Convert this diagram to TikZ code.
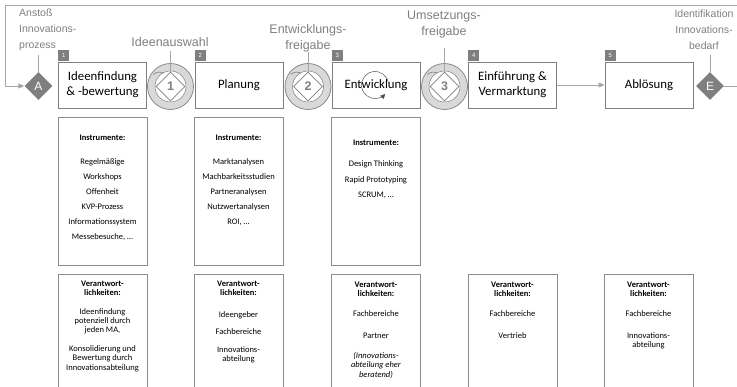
\documentclass[tikz,border=0pt]{standalone}
\usepackage{fontspec}
\setmainfont{Carlito}
\newfontfamily\labelfont{Liberation Sans}
\usetikzlibrary{shapes.geometric,arrows.meta,calc}
\definecolor{lg}{HTML}{D9D9D9}
\definecolor{mg}{HTML}{7F7F7F}
\definecolor{bc}{HTML}{8C8C8C}
\definecolor{fc}{HTML}{A6A6A6}
\begin{document}
\begin{tikzpicture}[x=1pt,y=1pt,
 phase/.style={draw=mg, line width=0.8pt, fill=white, minimum width=88pt, minimum height=46pt, inner sep=0pt, align=center, font=\fontsize{12.8}{15}\selectfont},
 tag/.style={fill=mg, minimum size=11pt, inner sep=0pt, text=white, anchor=south west, font=\labelfont\fontsize{6}{6}\selectfont},
 infobox/.style={draw=bc, line width=0.7pt, minimum width=89pt, inner sep=0pt, anchor=north},
 infotext/.style={anchor=north, align=center, font=\fontsize{8.5}{9.4}\selectfont, inner sep=0pt},
 gate/.style={diamond, fill=mg, minimum size=28pt, inner sep=0pt, text=white, font=\labelfont\fontsize{12}{12}\selectfont},
 ring/.style={circle, fill=lg, draw=mg, line width=0.7pt, minimum size=46pt, inner sep=0pt},
 inring/.style={circle, fill=white, draw=mg, line width=0.5pt, minimum size=31pt, inner sep=0pt},
 gdiam/.style={diamond, fill=white, draw=mg, line width=0.7pt, minimum size=29pt, inner sep=0pt, text=mg, font=\labelfont\bfseries\fontsize{12.5}{12.5}\selectfont},
 lbl/.style={text=mg, font=\labelfont\fontsize{12.5}{16}\selectfont, align=center, inner sep=0pt},
 lbls/.style={text=mg, font=\labelfont\fontsize{10.5}{16}\selectfont, inner sep=0pt},
 conn/.style={draw=fc, line width=0.8pt},
 arr/.style={conn, -{Triangle[length=6pt,width=5pt]}}
]
\useasboundingbox (0,0) rectangle (737,-387);

% frame connectors
\coordinate (tr) at (737,-5);
\coordinate (tl) at (5,-5);
\coordinate (bl) at (5,-86);
\coordinate (er) at (737,-86);

% gates
\node[gate] (A) at (38.5,-86) {A};
\node[gate] (E) at (710,-86) {E};
\draw[arr] (tr) -- (tl) -- (bl) -- (A.west);
\draw[conn] (E.east) -- (er);

% phase boxes
\node[phase] (b1) at (102.5,-85) {Ideenfindung\\\& -bewertung};
\node[phase] (b2) at (239,-85) {Planung};
\node[phase] (b3) at (376,-85) {Entwicklung};
\node[phase] (b4) at (512.5,-85) {Einführung \&\\Vermarktung};
\node[phase] (b5) at (649,-85) {Ablösung};
\node[tag] (t1) at (b1.north west) {1};
\node[tag] (t2) at (b2.north west) {2};
\node[tag] (t3) at (b3.north west) {3};
\node[tag] (t4) at (b4.north west) {4};
\node[tag] (t5) at (b5.north west) {5};
\draw[arr] (b4.east) -- (b5.west);

% circular arrow in Entwicklung
\coordinate (ec) at (375,-85);
\draw[black!70, line width=0.5pt, -{Triangle[length=4.5pt,width=4.5pt]}] (ec) ++(8:13.5) arc (8:318:13.5);

% gates 1-3
\foreach \i/\x in {1/170.5,2/308,3/444.5}{
  \node[ring] (c\i) at (\x,-86.5) {};
  \node[inring] (ci\i) at (\x,-86.5) {};
  \node[gdiam] (d\i) at (\x,-86.5) {\i};
  \draw[mg, line width=0.6pt] ($(c\i)+(145:21)$) to[bend left=35] ($(c\i)+(118:15)$);
}

% labels
\node[lbls, anchor=north west, align=left] (la) at (19,-9) {Anstoß\\Innovations-\\prozess};
\coordinate (lac) at (38.5,-55);
\draw[conn] (lac) -- (A.north);
\node[lbls, align=center, anchor=north] (le) at (704,-10) {Identifikation\\Innovations-\\bedarf};
\coordinate (lec) at (710,-55);
\draw[conn] (lec) -- (E.north);

\node[lbl] (l1) at (170,-42.5) {Ideenauswahl};
\node[lbl, anchor=north] (l2) at (308,-24) {Entwicklungs-\\freigabe};
\node[lbl, anchor=north] (l3) at (444,-11) {Umsetzungs-\\freigabe};
\coordinate (l1c) at (170.5,-51);
\coordinate (l2c) at (308,-52);
\coordinate (l3c) at (444.5,-48);
\draw[conn] (l1c) -- (d1.north);
\draw[conn] (l2c) -- (d2.north);
\draw[conn] (l3c) -- (d3.north);

% info boxes
\foreach \i/\x in {1/102.5,2/238.5,3/376}{
  \node[infobox, minimum height=148pt] (i\i) at (\x,-117) {};
}
\foreach \i/\x in {1/102.5,2/238.5,3/376,4/512.5,5/648.5}{
  \node[infobox, minimum height=130pt] (r\i) at (\x,-274) {};
}

\node[infotext, font=\fontsize{8.5}{15}\selectfont] (ti1) at (102.5,-134.5) {\textbf{Instrumente:}\\[9pt]Regelmäßige\\Workshops\\Offenheit\\KVP-Prozess\\Informationssystem\\Messebesuche, …};
\node[infotext, font=\fontsize{8.5}{15}\selectfont] (ti2) at (238.5,-134.5) {\textbf{Instrumente:}\\[9pt]Marktanalysen\\Machbarkeitsstudien\\Partneranalysen\\Nutzwertanalysen\\ROI, …};
\node[infotext, font=\fontsize{8.5}{15.5}\selectfont] (ti3) at (376,-139.5) {\textbf{Instrumente:}\\[6pt]Design Thinking\\Rapid Prototyping\\SCRUM, …};

\node[infotext] (tr1) at (102.5,-280.5) {\textbf{Verantwort-}\\\textbf{lichkeiten:}\\[9pt]Ideenfindung\\potenziell durch\\jeden MA,\\[9pt]Konsolidierung und\\Bewertung durch\\Innovationsabteilung};
\node[infotext] (tr2) at (238.5,-280.5) {\textbf{Verantwort-}\\\textbf{lichkeiten:}\\[12pt]Ideengeber\\[8.5pt]Fachbereiche\\[8pt]Innovations-\\abteilung};
\node[infotext] (tr3) at (376,-281.5) {\textbf{Verantwort-}\\\textbf{lichkeiten:}\\[10.5pt]Fachbereiche\\[12.5pt]Partner\\[10.5pt]\textit{(Innovations-}\\\textit{abteilung eher}\\\textit{beratend)}};
\node[infotext] (tr4) at (512.5,-281.5) {\textbf{Verantwort-}\\\textbf{lichkeiten:}\\[10.5pt]Fachbereiche\\[12.5pt]Vertrieb};
\node[infotext] (tr5) at (648.5,-281.5) {\textbf{Verantwort-}\\\textbf{lichkeiten:}\\[10.5pt]Fachbereiche\\[12.5pt]Innovations-\\abteilung};
\end{tikzpicture}
\end{document}
